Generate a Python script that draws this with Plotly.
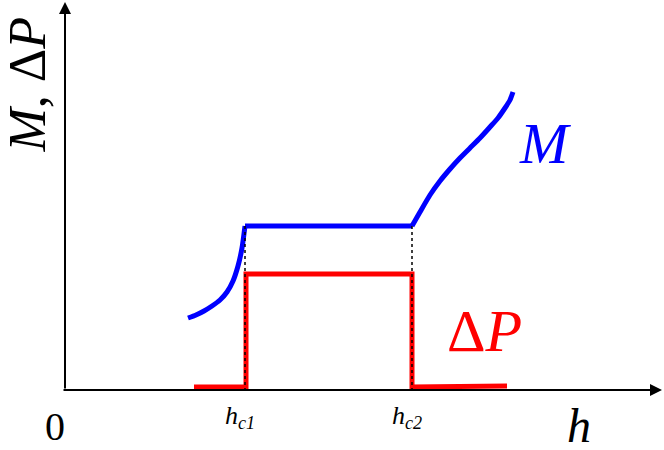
import plotly.graph_objects as go

# M(h) curve (arbitrary units, origin at the axes corner)
# branch below hc1
h_M_low = [1.23, 1.31, 1.39, 1.47, 1.55, 1.62, 1.68, 1.73, 1.77, 1.80]
M_low = [0.72, 0.75, 0.79, 0.84, 0.90, 0.98, 1.09, 1.24, 1.42, 1.64]
# branch above hc2
h_M_high = [3.47, 3.55, 3.65, 3.75, 3.85, 3.95, 4.05, 4.15, 4.25, 4.33, 4.40, 4.45, 4.48]
M_high = [1.64, 1.78, 1.95, 2.09, 2.21, 2.32, 2.42, 2.52, 2.63, 2.72, 2.82, 2.90, 2.98]

# Pressure jump Delta P(h)
h_P = [1.29, 1.81, 1.81, 3.47, 3.47, 4.42]
dP = [0.03, 0.03, 1.16, 1.16, 0.03, 0.04]

# critical fields
hc = [1.80, 3.47]
hc_labels = ["h<sub>c1</sub>", "h<sub>c2</sub>"]
M_plateau = 1.64

SERIF = "Liberation Serif"
BLUE = "#0000ff"
RED = "#ff0000"

fig = go.Figure()

m_line = dict(color=BLUE, width=5, shape="spline", smoothing=0.6)
fig.add_trace(go.Scatter(x=h_M_low, y=M_low, mode="lines", line=m_line))
fig.add_trace(go.Scatter(x=hc, y=[M_plateau, M_plateau], mode="lines",
                         line=dict(color=BLUE, width=5)))
fig.add_trace(go.Scatter(x=h_M_high, y=M_high, mode="lines", line=m_line))
fig.add_trace(go.Scatter(x=h_P, y=dP, mode="lines",
                         line=dict(color=RED, width=5)))

# dotted guides at the critical fields
for h in hc:
    fig.add_trace(go.Scatter(x=[h, h], y=[M_plateau, 0], mode="lines",
                             line=dict(color="black", width=1.5, dash="dot")))

# axes with arrows
fig.add_annotation(x=5.97, y=0, ax=-0.03, ay=0, xref="x", yref="y",
                   axref="x", ayref="y", showarrow=True, arrowhead=2,
                   arrowsize=1.2, arrowwidth=2, arrowcolor="black", text="")
fig.add_annotation(x=0, y=3.88, ax=0, ay=0, xref="x", yref="y",
                   axref="x", ayref="y", showarrow=True, arrowhead=2,
                   arrowsize=1.2, arrowwidth=2, arrowcolor="black", text="")

# labels
fig.add_annotation(x=-0.385, y=3.05, text="<i>M</i>, Δ<i>P</i>", textangle=-90,
                   showarrow=False, font=dict(family=SERIF, size=52, color="black"))
fig.add_annotation(x=4.80, y=2.47, text="<i>M</i>", showarrow=False,
                   font=dict(family=SERIF, size=58, color=BLUE))
fig.add_annotation(x=4.19, y=0.59, text="Δ<i>P</i>", showarrow=False,
                   font=dict(family=SERIF, size=60, color=RED))
fig.add_annotation(x=-0.10, y=-0.36, text="0", showarrow=False,
                   font=dict(family=SERIF, size=40, color="black"))
fig.add_annotation(x=5.14, y=-0.35, text="<i>h</i>", showarrow=False,
                   font=dict(family=SERIF, size=48, color="black"))
for h, lab in zip(hc, hc_labels):
    fig.add_annotation(x=h - 0.05, y=-0.27, text="<i>" + lab + "</i>", showarrow=False,
                       font=dict(family=SERIF, size=26, color="black"))

fig.update_layout(
    width=664, height=450,
    margin=dict(l=0, r=0, t=0, b=0),
    paper_bgcolor="white", plot_bgcolor="white",
    showlegend=False,
    xaxis=dict(range=[-0.65, 5.99], visible=False, fixedrange=True),
    yaxis=dict(range=[-0.60, 3.90], visible=False, fixedrange=True),
)

fig.write_html("out.html", config={"displayModeBar": False},
               post_script="document.body.style.margin='0';")
